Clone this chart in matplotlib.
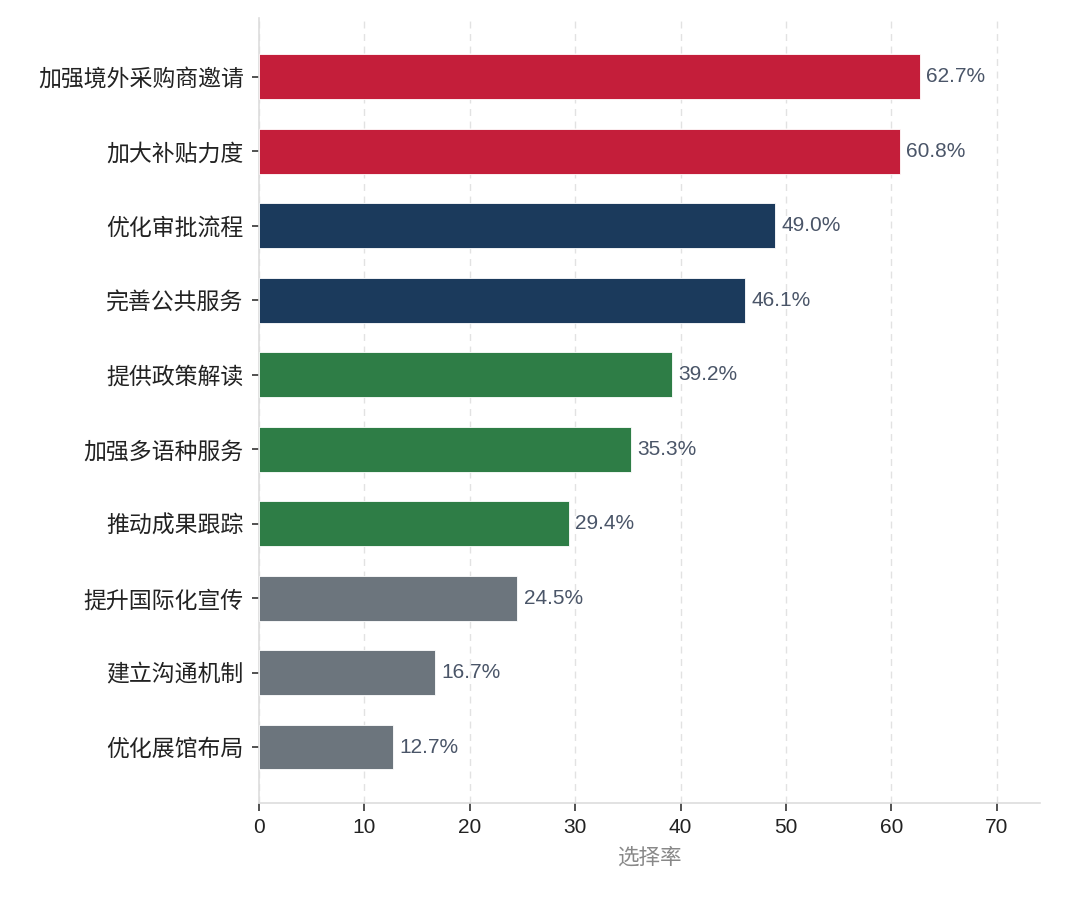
import matplotlib
matplotlib.use("Agg")
import matplotlib.pyplot as plt

categories = ["加强境外采购商邀请", "加大补贴力度", "优化审批流程", "完善公共服务", "提供政策解读",
              "加强多语种服务", "推动成果跟踪", "提升国际化宣传", "建立沟通机制", "优化展馆布局"]
values = [62.7, 60.8, 49.0, 46.1, 39.2, 35.3, 29.4, 24.5, 16.7, 12.7]
colors = ["#C41E3A", "#C41E3A", "#1B3A5C", "#1B3A5C", "#2E7D46",
          "#2E7D46", "#2E7D46", "#6C757D", "#6C757D", "#6C757D"]
xticks = [0, 10, 20, 30, 40, 50, 60, 70]

plt.rcParams['font.family'] = ['Liberation Sans', 'Noto Sans CJK SC', 'DejaVu Sans']

fig = plt.figure(figsize=(10.8, 8.97), dpi=100)
ax = fig.add_axes([0.2398, 0.1048, 0.963 - 0.2398, 0.98 - 0.1048])

n = len(categories)
ypos = list(range(n - 1, -1, -1))
ax.barh(ypos, values, height=0.6, color=colors, edgecolor="white", linewidth=0.6, zorder=3)

for y, v in zip(ypos, values):
    ax.text(v + 0.6, y, f"{v:.1f}%", va="center", ha="left", fontsize=15, color="#4A5568", zorder=4)

ax.set_yticks(ypos)
ax.set_yticklabels(categories, fontsize=16.5, color="#222222",
                   fontfamily=['Noto Sans CJK SC', 'DejaVu Sans'])
ax.set_xticks(xticks)
ax.set_xticklabels([str(t) for t in xticks], fontsize=15, color="#222222")
ax.set_xlim(0, 74.1)
ax.set_ylim(-0.75, n - 1 + 0.79)

ax.set_xlabel("选择率", fontsize=15.5, color="#888888", fontfamily=['Noto Sans CJK SC', 'DejaVu Sans'])
ax.xaxis.set_label_coords(0.5, -0.055)

ax.grid(axis="x", linestyle=(0, (5, 4)), color="#E2E2E2", linewidth=1.0, zorder=0)
ax.set_axisbelow(True)
for s in ["top", "right"]:
    ax.spines[s].set_visible(False)
for s in ["left", "bottom"]:
    ax.spines[s].set_color("#DDDDDD")
    ax.spines[s].set_linewidth(1.2)
ax.tick_params(axis="y", length=5, width=1.2, color="#333333", pad=6)
ax.tick_params(axis="x", length=6, width=1.2, color="#333333", pad=5)

fig.savefig("out.png", dpi=100, facecolor="white")
